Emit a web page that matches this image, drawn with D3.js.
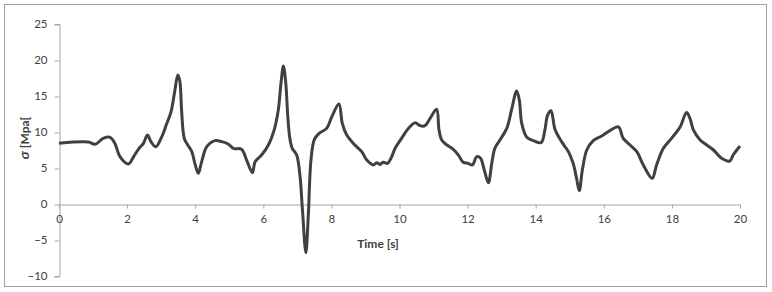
<!DOCTYPE html>
<html>
<head>
<meta charset="utf-8">
<script src="https://cdn.jsdelivr.net/npm/d3@7"></script>
<style>
  body { margin: 0; background: #fff; }
  text { font-family: Lato, "Open Sans", sans-serif; fill: #404040; }
</style>
</head>
<body>
<svg id="chart" width="772" height="292"></svg>
<script>
// time in seconds, stress in MPa
var time = [0, 0.86, 1.06, 1.30, 1.50, 1.64, 1.79, 2.04, 2.18, 2.33, 2.48, 2.60, 2.70, 2.84,
    3.01, 3.16, 3.29, 3.39, 3.49, 3.55, 3.60, 3.68, 3.78, 3.90, 3.99, 4.09, 4.19, 4.34,
    4.58, 4.78, 4.97, 5.12, 5.36, 5.51, 5.68, 5.76, 5.95, 6.15, 6.32, 6.44, 6.52, 6.59,
    6.66, 6.72, 6.78, 6.85, 6.98, 7.08, 7.15, 7.25, 7.32, 7.40, 7.50, 7.64, 7.86, 8.01,
    8.22, 8.32, 8.45, 8.64, 8.89, 9.04, 9.23, 9.33, 9.43, 9.52, 9.65, 9.75, 9.87, 10.06,
    10.26, 10.46, 10.60, 10.75, 10.90, 11.09, 11.16, 11.24, 11.39, 11.58, 11.73, 11.87,
    12.02, 12.14, 12.27, 12.38, 12.49, 12.61, 12.71, 12.80, 12.95, 13.15, 13.29, 13.44,
    13.52, 13.59, 13.74, 13.93, 14.16, 14.27, 14.35, 14.45, 14.57, 14.76, 14.96, 15.10,
    15.20, 15.28, 15.37, 15.50, 15.69, 15.94, 16.18, 16.43, 16.57, 16.77, 16.97, 17.16,
    17.42, 17.55, 17.75, 17.99, 18.24, 18.43, 18.53, 18.63, 18.83, 19.02, 19.22, 19.46,
    19.70, 19.80, 20.0];
var stress = [8.43, 8.6, 8.3, 9.1, 9.26, 8.43, 6.57, 5.56, 6.48, 7.6, 8.43, 9.58, 8.66, 7.96,
    9.26, 11.1, 12.8, 15.4, 17.9, 17.0, 13.06, 9.1, 8.2, 7.27, 5.65, 4.26, 5.88, 7.96,
    8.8, 8.66, 8.33, 7.73, 7.6, 6.1, 4.35, 5.88, 6.8, 8.2, 10.3, 13.06, 16.8, 19.17,
    16.8, 12.1, 9.1, 7.73, 6.8, 3.8, -0.83, -6.76, -1.76, 6.1, 8.98, 9.82, 10.5, 12.1,
    13.9, 11.2, 9.58, 8.43, 7.27, 6.1, 5.42, 5.74, 5.5, 5.79, 5.65, 6.35, 7.73, 9.12,
    10.5, 11.3, 10.88, 10.88, 11.9, 13.15, 10.3, 8.9, 8.2, 7.6, 6.8, 5.79,
    5.65, 5.42, 6.57, 6.35, 4.72, 2.96, 5.65, 7.73, 8.9, 10.5, 13.06, 15.7,
    14.4, 11.2, 9.26, 8.8, 8.52, 10.3, 12.36, 12.96, 10.3, 8.66, 7.27, 5.65,
    3.57, 1.85, 4.72, 7.5, 8.8, 9.44, 10.2, 10.7, 9.12, 8.2, 7.27, 5.42,
    3.57, 5.42, 7.73, 9.12, 10.7, 12.7, 11.9, 10.3, 8.9, 8.2, 7.5, 6.35,
    5.97, 6.8, 8.05];
var xTicks = [0, 2, 4, 6, 8, 10, 12, 14, 16, 18, 20];
var yTicks = [-10, -5, 0, 5, 10, 15, 20, 25];

var svg = d3.select("#chart");

svg.append("rect")
    .attr("x", 4.5).attr("y", 4.5)
    .attr("width", 762).attr("height", 282)
    .style("fill", "none")
    .style("stroke", "#a0a0a0")
    .style("stroke-width", "1px");

var x = d3.scaleLinear().domain([0, 20]).range([59, 740]);
var y = d3.scaleLinear().domain([-10, 25]).range([276, 24]);

// y axis
var yAxis = svg.append("g")
    .attr("transform", "translate(59.5,0)")
    .call(d3.axisLeft(y).tickValues(yTicks).tickSize(5).tickPadding(7));
yAxis.select(".domain").style("stroke", "#a6a6a6");
yAxis.selectAll(".tick line").style("stroke", "#a6a6a6").attr("transform", "translate(0,0.5)");
yAxis.selectAll(".tick text").style("font-size", "11.5px").style("fill", "#404040");

// x axis sits on the zero line
var xAxis = svg.append("g")
    .attr("transform", "translate(0," + (y(0) + 0.5) + ")")
    .call(d3.axisBottom(x).tickValues(xTicks).tickSize(4).tickPadding(6));
xAxis.select(".domain").style("stroke", "#a6a6a6");
xAxis.selectAll(".tick line").style("stroke", "#a6a6a6");
xAxis.selectAll(".tick text").style("font-size", "11.5px").style("fill", "#404040");

var line = d3.line()
    .x(function(d, i) { return x(time[i]); })
    .y(function(d) { return y(d); })
    .curve(d3.curveCatmullRom.alpha(0.5));

svg.append("path")
    .datum(stress)
    .attr("d", line)
    .style("fill", "none")
    .style("stroke", "#404040")
    .style("stroke-width", "3px")
    .style("stroke-linejoin", "round");

svg.append("text")
    .attr("x", 378).attr("y", 248)
    .attr("text-anchor", "middle")
    .style("font-size", "12px")
    .style("font-weight", "bold")
    .text("Time [s]");

var yl = svg.append("text")
    .attr("transform", "translate(29,138) rotate(-90)")
    .attr("text-anchor", "middle")
    .style("font-size", "12px")
    .style("font-weight", "bold");
yl.append("tspan").style("font-style", "italic").style("font-size", "14px").text("σ");
yl.append("tspan").text(" [Mpa[");
</script>
</body>
</html>
